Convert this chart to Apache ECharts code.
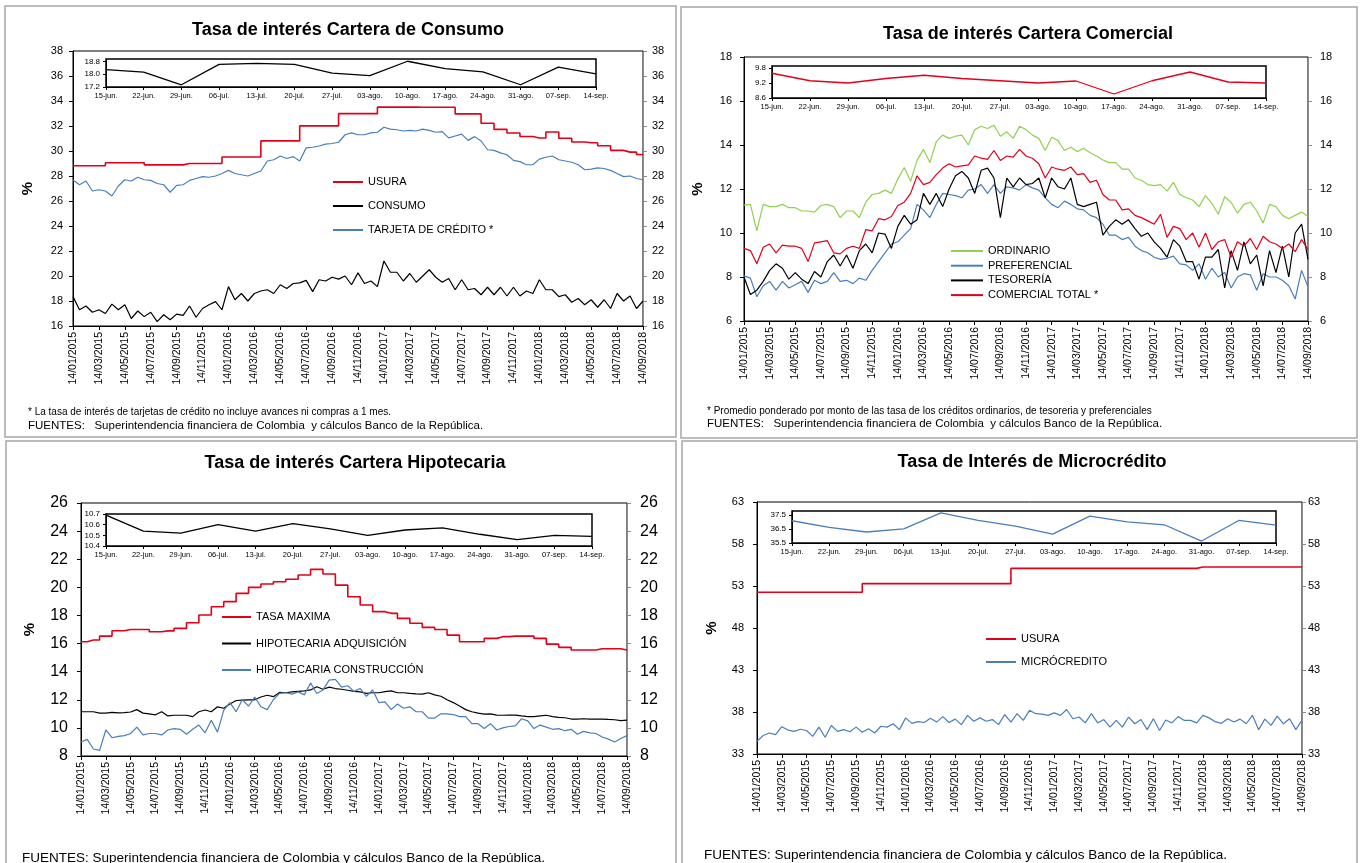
<!DOCTYPE html>
<html>
<head>
<meta charset="utf-8">
<title>Tasas de interés</title>
<script src="https://cdn.jsdelivr.net/npm/echarts@6/dist/echarts.min.js"></script>
<style>
  html, body { margin: 0; background: #fff; }
  #chart { width: 1362px; height: 863px; }
</style>
</head>
<body>
<div id="chart"></div>
<script>
// etiquetas del eje x (cada 2 meses) y de las semanas del recuadro
const dateLabels = ['14/01/2015', '14/03/2015', '14/05/2015', '14/07/2015', '14/09/2015', '14/11/2015',
  '14/01/2016', '14/03/2016', '14/05/2016', '14/07/2016', '14/09/2016', '14/11/2016',
  '14/01/2017', '14/03/2017', '14/05/2017', '14/07/2017', '14/09/2017', '14/11/2017',
  '14/01/2018', '14/03/2018', '14/05/2018', '14/07/2018', '14/09/2018']
const weekLabels = ['15-jun.', '22-jun.', '29-jun.', '06-jul.', '13-jul.', '20-jul.', '27-jul.',
  '03-ago.', '10-ago.', '17-ago.', '24-ago.', '31-ago.', '07-sep.', '14-sep.']

// consumo (usura mensual, resto cada ~2 semanas)
const usuraConsumo = [28.82, 28.82, 28.82, 29.06, 29.06, 29.06, 28.89, 28.89, 28.89, 29.0, 29.0, 29.0,
  29.52, 29.52, 29.52, 30.81, 30.81, 30.81, 32.01, 32.01, 32.01, 32.99, 32.99, 32.99,
  33.51, 33.51, 33.51, 33.5, 33.5, 33.5, 32.97, 32.97, 32.22, 31.73, 31.44, 31.16,
  31.04, 31.52, 31.02, 30.72, 30.66, 30.42, 30.05, 29.91, 29.72]
const consumo = [18.35, 17.3, 17.6, 17.1, 17.3, 17.0, 17.75, 17.3, 17.7, 16.6,
  17.2, 16.75, 17.1, 16.35, 16.9, 16.5, 16.95, 16.85, 17.6, 16.7,
  17.4, 17.7, 17.95, 17.3, 19.15, 18.1, 18.6, 18.0, 18.6, 18.8,
  18.9, 18.6, 19.3, 19.0, 19.4, 19.45, 19.65, 18.75, 19.7, 19.6,
  19.9, 19.75, 20.0, 19.3, 20.25, 19.4, 19.6, 19.15, 21.2, 20.3,
  20.3, 19.6, 20.2, 19.5, 20.0, 20.5, 19.9, 19.5, 19.8, 18.9,
  19.7, 18.9, 19.0, 18.5, 19.1, 18.5, 19.1, 18.4, 19.1, 18.4,
  18.8, 18.6, 19.7, 18.9, 18.9, 18.35, 18.5, 17.9, 18.2, 17.7,
  18.1, 17.5, 18.1, 17.4, 18.6, 18.0, 18.4, 17.4, 18.0]
const tarjeta = [27.68, 27.3, 27.6, 26.8, 26.9, 26.8, 26.4, 27.2, 27.7, 27.6,
  27.9, 27.7, 27.65, 27.4, 27.3, 26.7, 27.25, 27.3, 27.65, 27.8,
  27.95, 27.9, 28.0, 28.2, 28.45, 28.2, 28.1, 28.0, 28.2, 28.4,
  29.2, 29.3, 29.6, 29.4, 29.55, 29.2, 30.25, 30.3, 30.4, 30.55,
  30.6, 30.7, 31.3, 31.45, 31.3, 31.3, 31.45, 31.5, 31.9, 31.75,
  31.7, 31.6, 31.65, 31.6, 31.75, 31.65, 31.5, 31.55, 31.05, 31.2,
  31.35, 30.85, 31.15, 30.8, 30.1, 30.05, 29.85, 29.7, 29.25, 29.15,
  28.9, 28.9, 29.35, 29.5, 29.6, 29.3, 29.2, 29.1, 28.9, 28.5,
  28.55, 28.65, 28.6, 28.45, 28.2, 27.95, 28.0, 27.8, 27.7]
const consumoWeeks = [18.29, 18.13, 17.34, 18.61, 18.68, 18.61, 18.07, 17.91, 18.81, 18.35, 18.15, 17.34, 18.44, 18.02]

// comercial
const ordinario = [11.27, 11.3, 10.1, 11.3, 11.2, 11.2, 11.3, 11.15, 11.15, 11.0,
  11.0, 10.95, 11.25, 11.3, 11.2, 10.7, 11.0, 11.0, 10.7, 11.4,
  11.75, 11.8, 11.95, 11.8, 12.45, 12.98, 12.35, 13.3, 13.8, 13.2,
  14.15, 14.45, 14.3, 14.4, 14.45, 14.0, 14.7, 14.85, 14.75, 14.9,
  14.4, 14.6, 14.3, 14.85, 14.7, 14.45, 14.3, 13.75, 14.35, 14.2,
  13.75, 13.9, 13.7, 13.85, 13.65, 13.5, 13.32, 13.2, 13.2, 12.9,
  12.9, 12.5, 12.4, 12.2, 12.15, 12.2, 11.9, 12.3, 11.75, 11.6,
  11.5, 11.2, 11.7, 11.35, 10.85, 11.65, 11.4, 10.9, 11.3, 11.4,
  11.0, 10.45, 11.3, 11.2, 10.8, 10.65, 10.8, 10.95, 10.75]
const preferencial = [8.05, 7.95, 7.1, 7.6, 7.8, 7.4, 7.8, 7.5, 7.65, 7.8,
  7.3, 7.85, 7.7, 7.8, 8.2, 7.8, 7.85, 7.7, 7.95, 7.85,
  8.3, 8.7, 9.1, 9.5, 9.6, 9.9, 10.2, 11.3, 11.05, 10.7,
  11.3, 11.8, 11.75, 11.7, 11.6, 11.95, 12.0, 12.2, 11.8, 12.2,
  11.8, 12.1, 12.05, 11.95, 12.2, 12.05, 11.95, 11.6, 11.3, 11.15,
  11.45, 11.3, 11.1, 11.05, 10.8, 10.7, 10.4, 9.9, 9.9, 9.7,
  9.8, 9.4, 9.2, 9.1, 8.9, 8.8, 8.85, 8.95, 8.6, 8.55,
  8.3, 8.6, 7.9, 8.4, 8.0, 8.2, 7.5, 8.0, 8.15, 8.1,
  7.4, 8.15, 8.0, 8.0, 7.85, 7.6, 7.0, 8.3, 7.55]
const tesoreria = [8.0, 7.2, 7.4, 7.8, 8.3, 8.6, 8.4, 7.9, 8.2, 7.9,
  7.7, 8.25, 8.0, 8.7, 9.0, 8.5, 9.0, 8.4, 9.2, 9.5,
  9.1, 10.0, 9.95, 9.3, 10.3, 10.8, 10.4, 10.6, 11.8, 11.3,
  11.8, 11.2, 12.0, 12.6, 12.8, 12.5, 11.8, 12.85, 12.95, 12.5,
  10.7, 12.5, 12.1, 12.5, 12.2, 12.25, 12.5, 11.6, 12.5, 12.1,
  12.0, 12.5, 11.3, 11.2, 11.3, 11.4, 9.9, 10.3, 10.6, 10.4,
  10.6, 10.2, 9.85, 10.0, 9.6, 9.3, 8.9, 9.7, 9.4, 8.7,
  8.7, 7.9, 8.9, 8.9, 9.25, 7.5, 9.2, 8.3, 9.6, 8.6,
  9.0, 7.6, 9.2, 8.2, 9.4, 8.0, 10.0, 10.4, 8.8]
const comercialTotal = [9.3, 9.2, 8.6, 9.35, 9.5, 9.1, 9.45, 9.4, 9.4, 9.3,
  8.7, 9.55, 9.6, 9.65, 9.1, 9.05, 9.3, 9.4, 9.3, 10.15,
  10.1, 10.65, 10.6, 10.75, 11.25, 11.4, 11.8, 12.6, 12.2, 12.3,
  12.65, 12.95, 13.15, 13.0, 13.05, 13.1, 13.5, 13.4, 13.35, 13.75,
  13.3, 13.5, 13.45, 13.8, 13.5, 13.4, 13.15, 12.5, 13.0, 12.9,
  12.85, 13.0, 12.65, 12.7, 12.3, 12.4, 11.75, 11.5, 11.5, 11.05,
  11.1, 10.8, 10.7, 10.55, 10.4, 10.85, 9.8, 10.3, 10.2, 9.7,
  10.0, 9.35, 10.0, 9.25, 9.6, 9.7, 8.9, 9.6, 9.4, 9.75,
  9.25, 9.85, 9.6, 9.5, 9.3, 9.5, 9.15, 9.7, 9.25]
const comercialWeeks = [9.59, 9.29, 9.2, 9.38, 9.51, 9.38, 9.29, 9.2, 9.28, 8.76, 9.29, 9.64, 9.24, 9.2]

// hipotecaria
const tasaMaxima = [16.13, 16.25, 16.53, 16.91, 17.0, 17.0, 16.84, 16.9, 17.08, 17.48, 18.03, 18.62,
  18.98, 19.57, 20.0, 20.24, 20.4, 20.57, 20.88, 21.28, 20.95, 20.16, 19.33, 18.74,
  18.27, 18.15, 17.79, 17.44, 17.15, 17.0, 16.6, 16.13, 16.13, 16.37, 16.49, 16.53,
  16.53, 16.37, 15.96, 15.73, 15.54, 15.54, 15.63, 15.63, 15.54]
const hipAdquisicion = [11.15, 11.15, 11.15, 11.05, 11.05, 11.1, 11.07, 11.08, 11.13, 11.3,
  11.05, 11.0, 10.93, 11.15, 10.85, 10.9, 10.9, 10.9, 10.8, 11.15,
  11.27, 11.15, 11.5, 11.4, 11.7, 11.95, 11.98, 12.0, 12.0, 12.2,
  12.32, 12.22, 12.52, 12.5, 12.56, 12.6, 12.64, 12.7, 12.93, 12.75,
  12.9, 12.8, 12.75, 12.68, 12.6, 12.56, 12.45, 12.5, 12.5, 12.58,
  12.63, 12.5, 12.5, 12.45, 12.42, 12.4, 12.5, 12.35, 12.25, 12.0,
  11.8, 11.55, 11.3, 11.15, 11.05, 10.98, 11.0, 10.91, 10.9, 10.91,
  10.91, 10.85, 10.8, 10.8, 10.85, 10.9, 10.8, 10.75, 10.72, 10.63,
  10.62, 10.65, 10.63, 10.62, 10.63, 10.6, 10.58, 10.52, 10.55]
const hipConstruccion = [9.0, 9.18, 8.5, 8.4, 9.85, 9.3, 9.4, 9.45, 9.6, 10.05,
  9.5, 9.6, 9.6, 9.5, 9.85, 9.95, 9.9, 9.55, 9.9, 10.2,
  9.65, 10.55, 9.7, 11.25, 11.8, 11.15, 12.0, 11.55, 12.2, 11.5,
  11.3, 12.0, 12.45, 12.5, 12.4, 12.56, 12.35, 13.2, 12.45, 12.7,
  13.4, 13.45, 12.9, 13.0, 12.6, 12.8, 12.25, 12.7, 11.8, 11.85,
  11.3, 11.7, 11.4, 11.5, 11.15, 11.15, 10.7, 10.7, 11.0, 11.0,
  10.95, 10.8, 10.8, 10.3, 10.3, 9.95, 10.3, 9.85, 10.0, 10.1,
  10.15, 10.65, 10.5, 9.95, 10.2, 10.05, 9.9, 9.95, 9.8, 9.9,
  9.55, 9.75, 9.65, 9.6, 9.35, 9.2, 9.0, 9.25, 9.45]
const hipWeeks = [10.69, 10.54, 10.52, 10.6, 10.54, 10.61, 10.56, 10.5, 10.55, 10.57, 10.51, 10.46, 10.5, 10.49]

// microcredito
const usuraMicro = [52.25, 52.25, 52.25, 52.25, 52.25, 52.25, 52.25, 52.25, 52.25,
  53.28, 53.28, 53.28, 53.28, 53.28, 53.28, 53.28, 53.28, 53.28, 53.28, 53.28, 53.28,
  55.1, 55.1, 55.1, 55.1, 55.1, 55.1, 55.1, 55.1, 55.1, 55.1, 55.1, 55.1, 55.1, 55.1, 55.1,
  55.26, 55.26, 55.26, 55.26, 55.26, 55.26, 55.26, 55.26, 55.26]
const microcredito = [34.5, 35.2, 35.5, 35.3, 36.25, 35.85, 35.7, 35.95, 35.8, 35.1,
  36.2, 35.0, 36.4, 35.7, 35.9, 35.65, 36.2, 35.6, 36.0, 35.5,
  36.3, 36.2, 36.6, 35.9, 37.3, 36.65, 36.85, 36.75, 37.25, 36.8,
  37.45, 36.75, 37.15, 36.5, 37.6, 36.9, 37.3, 36.9, 37.1, 36.5,
  37.7, 36.8, 37.8, 37.0, 38.2, 37.8, 37.75, 37.6, 37.9, 37.6,
  38.3, 37.2, 37.4, 36.7, 37.8, 36.7, 37.1, 36.2, 37.0, 36.2,
  37.4, 36.6, 37.1, 35.9, 37.2, 35.8, 37.05, 36.7, 37.45, 37.0,
  37.0, 36.7, 37.6, 37.3, 36.85, 36.65, 37.2, 36.8, 37.15, 36.6,
  37.6, 35.9, 37.15, 36.4, 37.5, 36.6, 37.2, 35.9, 37.0]
const microWeeks = [37.1, 36.62, 36.29, 36.52, 37.67, 37.12, 36.71, 36.14, 37.43, 37.02, 36.81, 35.64, 37.12, 36.79]

const RED = '#e2001a'
const BLUE = '#4a7ebb'
const GREEN = '#92d050'
const BLACK = '#000'
const FONT = '"Liberation Sans", Arial, sans-serif'
const FUENTES = 'FUENTES:   Superintendencia financiera de Colombia  y cálculos Banco de la República.'

const panels = [
  {
    title: 'Tasa de interés Cartera de Consumo', titleX: 348, titleY: 30,
    box: [5, 6, 671, 431],
    grid: { left: 73, top: 51, width: 570, height: 275 },
    y: { min: 16, max: 38, interval: 2 }, yFont: 11, yMargin: [10, 9], nameGap: 38,
    inset: { left: 106, top: 59, width: 490, height: 28 },
    insetY: { min: 17.2, max: 18.95, interval: 0.8 }, insetMax: false,
    insetData: consumoWeeks, insetColor: BLACK,
    series: [
      { name: 'USURA', data: usuraConsumo, monthly: true, color: RED },
      { name: 'CONSUMO', data: consumo, color: BLACK },
      { name: 'TARJETA DE CRÉDITO *', data: tarjeta, color: BLUE }
    ],
    legend: { left: 333, top: 176, itemWidth: 30, step: 24 },
    notes: [
      { text: '* La tasa de interés de tarjetas de crédito no incluye avances ni compras a 1 mes.', x: 28, y: 412, size: 10 },
      { text: FUENTES, x: 28, y: 426, size: 11.5 }
    ]
  },
  {
    title: 'Tasa de interés Cartera Comercial', titleX: 1028, titleY: 34,
    box: [681, 7, 676, 431],
    grid: { left: 744, top: 57, width: 564, height: 264 },
    y: { min: 6, max: 18, interval: 2 }, yFont: 11, yMargin: [12, 12], nameGap: 39,
    inset: { left: 772, top: 66, width: 494, height: 32 },
    insetY: { min: 8.6, max: 9.88, interval: 0.6 }, insetMax: false,
    insetData: comercialWeeks, insetColor: RED,
    series: [
      { name: 'ORDINARIO', data: ordinario, color: GREEN },
      { name: 'PREFERENCIAL', data: preferencial, color: BLUE },
      { name: 'TESORERÍA', data: tesoreria, color: BLACK },
      { name: 'COMERCIAL TOTAL *', data: comercialTotal, color: RED }
    ],
    legend: { left: 951, top: 245, itemWidth: 32, step: 14.7 },
    notes: [
      { text: '* Promedio ponderado por monto de las tasa de los créditos ordinarios, de tesoreria y preferenciales', x: 707, y: 411, size: 10 },
      { text: FUENTES, x: 707, y: 424, size: 11.5 }
    ]
  },
  {
    title: 'Tasa de interés Cartera Hipotecaria', titleX: 355, titleY: 463,
    box: [6, 441, 670, 430],
    grid: { left: 81, top: 503, width: 546, height: 253 },
    y: { min: 8, max: 26, interval: 2 }, yFont: 16, yMargin: [13, 13], nameGap: 44,
    inset: { left: 106, top: 514, width: 486, height: 32 },
    insetY: { min: 10.4, max: 10.7, interval: 0.1 }, insetMax: true,
    insetData: hipWeeks, insetColor: BLACK,
    series: [
      { name: 'TASA MAXIMA', data: tasaMaxima, monthly: true, color: RED },
      { name: 'HIPOTECARIA ADQUISICIÓN', data: hipAdquisicion, color: BLACK },
      { name: 'HIPOTECARIA CONSTRUCCIÓN', data: hipConstruccion, color: BLUE }
    ],
    legend: { left: 222, top: 611, itemWidth: 29, step: 26.5 },
    notes: [
      { text: 'FUENTES: Superintendencia financiera de Colombia y cálculos Banco de la República.', x: 22, y: 858, size: 13.5 }
    ]
  },
  {
    title: 'Tasa de Interés de Microcrédito', titleX: 1032, titleY: 462,
    box: [682, 441, 675, 430],
    grid: { left: 757, top: 502, width: 545, height: 252 },
    y: { min: 33, max: 63, interval: 5 }, yFont: 11, yMargin: [13, 6], nameGap: 38,
    inset: { left: 792, top: 511, width: 484, height: 32 },
    insetY: { min: 35.5, max: 37.8, interval: 1 }, insetMax: false,
    insetData: microWeeks, insetColor: BLUE,
    series: [
      { name: 'USURA', data: usuraMicro, monthly: true, color: RED },
      { name: 'MICRÓCREDITO', data: microcredito, color: BLUE }
    ],
    legend: { left: 986, top: 633, itemWidth: 30, step: 23 },
    notes: [
      { text: 'FUENTES: Superintendencia financiera de Colombia y cálculos Banco de la República.', x: 704, y: 855, size: 13.5 }
    ]
  }
]

const grids = []
const xAxes = []
const yAxes = []
const series = []
const legends = []
const graphics = []

panels.forEach((p, n) => {
  const g = n * 2
  const ya = n * 3
  grids.push({ ...p.grid, show: true, borderColor: '#000', borderWidth: 1 })
  grids.push({ ...p.inset, show: true, backgroundColor: '#fff', borderColor: '#000', borderWidth: 1.5 })

  xAxes.push({
    type: 'value', gridIndex: g, min: 0, max: 44, interval: 2,
    axisLine: { onZero: false, lineStyle: { color: '#000' } },
    axisTick: { length: 4, lineStyle: { color: '#000' } },
    splitLine: { show: false },
    axisLabel: {
      rotate: 90, margin: 6, fontSize: 10.5, fontFamily: FONT, color: '#000',
      formatter: v => dateLabels[Math.round(v / 2)]
    }
  })
  xAxes.push({
    type: 'category', gridIndex: g + 1, data: weekLabels, boundaryGap: false,
    axisLine: { lineStyle: { color: '#000' } },
    axisTick: { length: 3, interval: 0, lineStyle: { color: '#000' } },
    axisLabel: { interval: 0, margin: 5, fontSize: 7.5, fontFamily: FONT, color: '#000' }
  })

  const yBase = {
    type: 'value', gridIndex: g, min: p.y.min, max: p.y.max, interval: p.y.interval,
    splitLine: { show: false }
  }
  yAxes.push({
    ...yBase, position: 'left',
    name: '%', nameLocation: 'middle', nameGap: p.nameGap,
    nameTextStyle: { fontSize: 15, fontWeight: 'bold', fontFamily: FONT, color: '#000' },
    axisLine: { show: true, lineStyle: { color: '#000' } },
    axisTick: { show: true, length: 4, lineStyle: { color: '#000' } },
    axisLabel: { fontSize: p.yFont, margin: p.yMargin[0], fontFamily: FONT, color: '#000' }
  })
  yAxes.push({
    ...yBase, position: 'right',
    axisLine: { show: true, lineStyle: { color: '#8c8c8c' } },
    axisTick: { show: true, length: 4, lineStyle: { color: '#8c8c8c' } },
    axisLabel: { fontSize: p.yFont, margin: p.yMargin[1], fontFamily: FONT, color: '#000' }
  })
  yAxes.push({
    type: 'value', gridIndex: g + 1, min: p.insetY.min, max: p.insetY.max, interval: p.insetY.interval,
    splitLine: { show: false },
    axisLine: { show: true, lineStyle: { color: '#000' } },
    axisTick: { show: true, length: 3, lineStyle: { color: '#000' } },
    axisLabel: {
      fontSize: 8, margin: 6, fontFamily: FONT, color: '#000', showMaxLabel: p.insetMax,
      formatter: v => v.toFixed(1)
    }
  })

  p.series.forEach(s => {
    series.push({
      type: 'line', name: s.name, xAxisIndex: g, yAxisIndex: ya,
      data: s.monthly ? s.data.map((v, i) => [i, v]) : s.data.map((v, i) => [i / 2, v]),
      step: s.monthly ? 'middle' : false,
      symbol: 'none', color: s.color,
      lineStyle: { width: s.monthly ? 1.6 : 1.2, color: s.color }
    })
  })
  series.push({
    type: 'line', xAxisIndex: g + 1, yAxisIndex: ya + 2, data: p.insetData,
    symbol: 'none', color: p.insetColor, lineStyle: { width: 1.3, color: p.insetColor }
  })

  // leyenda: solo un trazo corto, sin simbolo
  legends.push({
    data: p.series.map(s => s.name), orient: 'vertical',
    left: p.legend.left, top: p.legend.top, padding: 0,
    icon: 'rect', itemWidth: p.legend.itemWidth, itemHeight: 2,
    itemGap: p.legend.step - 12,
    selectedMode: false,
    textStyle: { fontSize: 11, fontFamily: FONT, color: '#000', lineHeight: 12 }
  })

  graphics.push({
    type: 'rect', silent: true, z: 0,
    shape: { x: p.box[0], y: p.box[1], width: p.box[2], height: p.box[3] },
    style: { fill: 'none', stroke: '#a6a6a6', lineWidth: 1.5 }
  })
  graphics.push({
    type: 'text', silent: true, x: p.titleX, y: p.titleY,
    style: {
      text: p.title, fill: '#000', font: 'bold 18px ' + FONT,
      textAlign: 'center', textVerticalAlign: 'middle'
    }
  })
  p.notes.forEach(t => {
    graphics.push({
      type: 'text', silent: true, x: t.x, y: t.y,
      style: { text: t.text, fill: '#000', font: t.size + 'px ' + FONT, textAlign: 'left', textVerticalAlign: 'middle' }
    })
  })
})

const chart = echarts.init(document.getElementById('chart'))
chart.setOption({
  animation: false,
  backgroundColor: '#fff',
  grid: grids,
  xAxis: xAxes,
  yAxis: yAxes,
  legend: legends,
  series: series,
  graphic: graphics
})
</script>
</body>
</html>
